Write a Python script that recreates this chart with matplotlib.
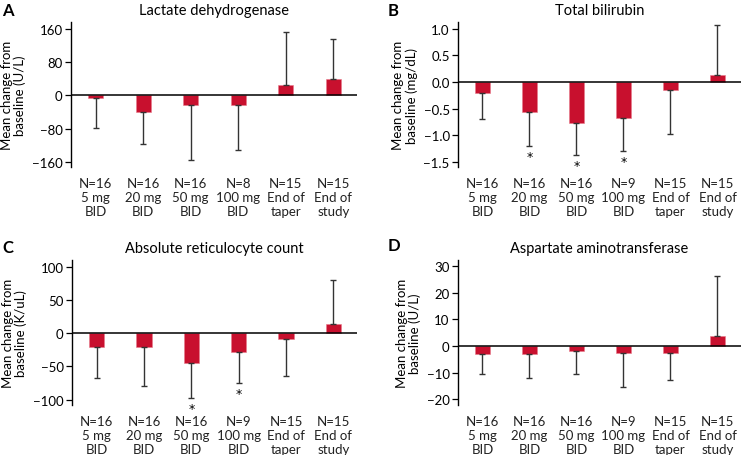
import numpy as np
import matplotlib.pyplot as plt

plt.rcParams['font.family'] = ['Lato', 'DejaVu Sans']

# categorias del eje x (comunes a los 4 paneles)
dosis = ["5 mg\nBID", "20 mg\nBID", "50 mg\nBID", "100 mg\nBID", "End of\ntaper", "End of\nstudy"]

# A: lactato deshidrogenasa
n_a = [16, 16, 16, 8, 15, 15]
media_a = [-6, -40, -24, -22, 24, 39]
de_a = [72, 76, 131, 108, 128, 97]

# B: bilirrubina total
n_b = [16, 16, 16, 9, 15, 15]
media_b = [-0.20, -0.56, -0.77, -0.67, -0.14, 0.14]
de_b = [0.49, 0.63, 0.59, 0.62, 0.83, 0.92]
signif_b = [False, True, True, True, False, False]

# C: reticulocitos
n_c = [16, 16, 16, 9, 15, 15]
media_c = [-21.5, -21, -45, -28, -8.5, 13.5]
de_c = [46.5, 59, 52.5, 47, 56.5, 66.5]
signif_c = [False, False, True, True, False, False]

# D: AST
n_d = [16, 16, 16, 9, 15, 15]
media_d = [-3.1, -3.1, -1.75, -2.75, -2.75, 3.75]
de_d = [7.2, 8.7, 8.55, 12.75, 10.05, 22.55]

rojo = '#C8102E'

fig = plt.figure(figsize=(7.42, 4.56), dpi=100)
W, H = 742, 456

def panel(rect, letra, letra_xy, titulo, ylabel, n, media, de, ticks, etiquetas, ylim, signif=None):
    x0, y0, x1, y1 = rect
    ax = fig.add_axes([x0 / W, 1 - y1 / H, (x1 - x0) / W, (y1 - y0) / H])
    x = np.arange(len(media))
    media = np.array(media)
    de = np.array(de)
    abajo = np.where(media < 0, de, 0)
    arriba = np.where(media >= 0, de, 0)
    ax.bar(x, media, width=0.32, color=rojo, edgecolor='#e87a8a', linewidth=0.4, zorder=2)
    ax.errorbar(x, media, yerr=[abajo, arriba], fmt='none', ecolor='#333333',
                elinewidth=1.0, capsize=2.5, capthick=1.0, zorder=3)
    ax.axhline(0, color='black', lw=1.1, zorder=4)
    if signif is not None:
        for i in range(len(media)):
            if signif[i]:
                ax.annotate('*', (x[i], media[i] - de[i]), xytext=(0, -14),
                            textcoords='offset pixels', ha='center', va='baseline',
                            fontsize=9, family='DejaVu Sans', annotation_clip=False)
    ax.set_xlim(-0.52, 5.5)
    ax.set_ylim(*ylim)
    ax.set_yticks(ticks)
    ax.set_yticklabels(etiquetas, fontsize=9.5)
    ax.set_xticks([])
    for s in ['top', 'right', 'bottom']:
        ax.spines[s].set_visible(False)
    ax.spines['left'].set_linewidth(1.0)
    ax.tick_params(axis='y', length=4, width=0.9, pad=2)
    for i in range(len(media)):
        ax.annotate("N=%d\n%s" % (n[i], dosis[i]), (x[i], ylim[0]), xytext=(0, -10),
                    textcoords='offset pixels', ha='center', va='top', fontsize=9.5,
                    linespacing=1.2, color='#222222', annotation_clip=False)
    ax.set_ylabel(ylabel, fontsize=9.5, linespacing=1.1, labelpad=4)
    ax.set_title(titulo, fontsize=10.5, pad=6)
    fig.text(letra_xy[0] / W, 1 - letra_xy[1] / H, letra, fontsize=12, fontweight='bold',
             ha='left', va='center')
    return ax

def menos(ticks, fmt):
    return [(fmt % t).replace('-', '\u2212') for t in ticks]

ticks_a = [-160, -80, 0, 80, 160]
ticks_b = [-1.5, -1.0, -0.5, 0.0, 0.5, 1.0]
ticks_c = [-100, -50, 0, 50, 100]
ticks_d = [-20, -10, 0, 10, 20, 30]

panel((71, 23, 357, 168), 'A', (2, 11), 'Lactate dehydrogenase',
      'Mean change from\nbaseline (U/L)', n_a, media_a, de_a,
      ticks_a, menos(ticks_a, '%d'), (-172, 176))

panel((458, 23, 741, 168), 'B', (388, 11), 'Total bilirubin',
      'Mean change from\nbaseline (mg/dL)', n_b, media_b, de_b,
      ticks_b, menos(ticks_b, '%.1f'), (-1.59, 1.125), signif_b)

panel((72, 261, 357, 406), 'C', (2, 248), 'Absolute reticulocyte count',
      'Mean change from\nbaseline (K/uL)', n_c, media_c, de_c,
      ticks_c, menos(ticks_c, '%d'), (-108, 110), signif_c)

panel((458, 261, 741, 406), 'D', (388, 246), 'Aspartate aminotransferase',
      'Mean change from\nbaseline (U/L)', n_d, media_d, de_d,
      ticks_d, menos(ticks_d, '%d'), (-22.1, 32.25))

fig.savefig('out.png', dpi=100)
